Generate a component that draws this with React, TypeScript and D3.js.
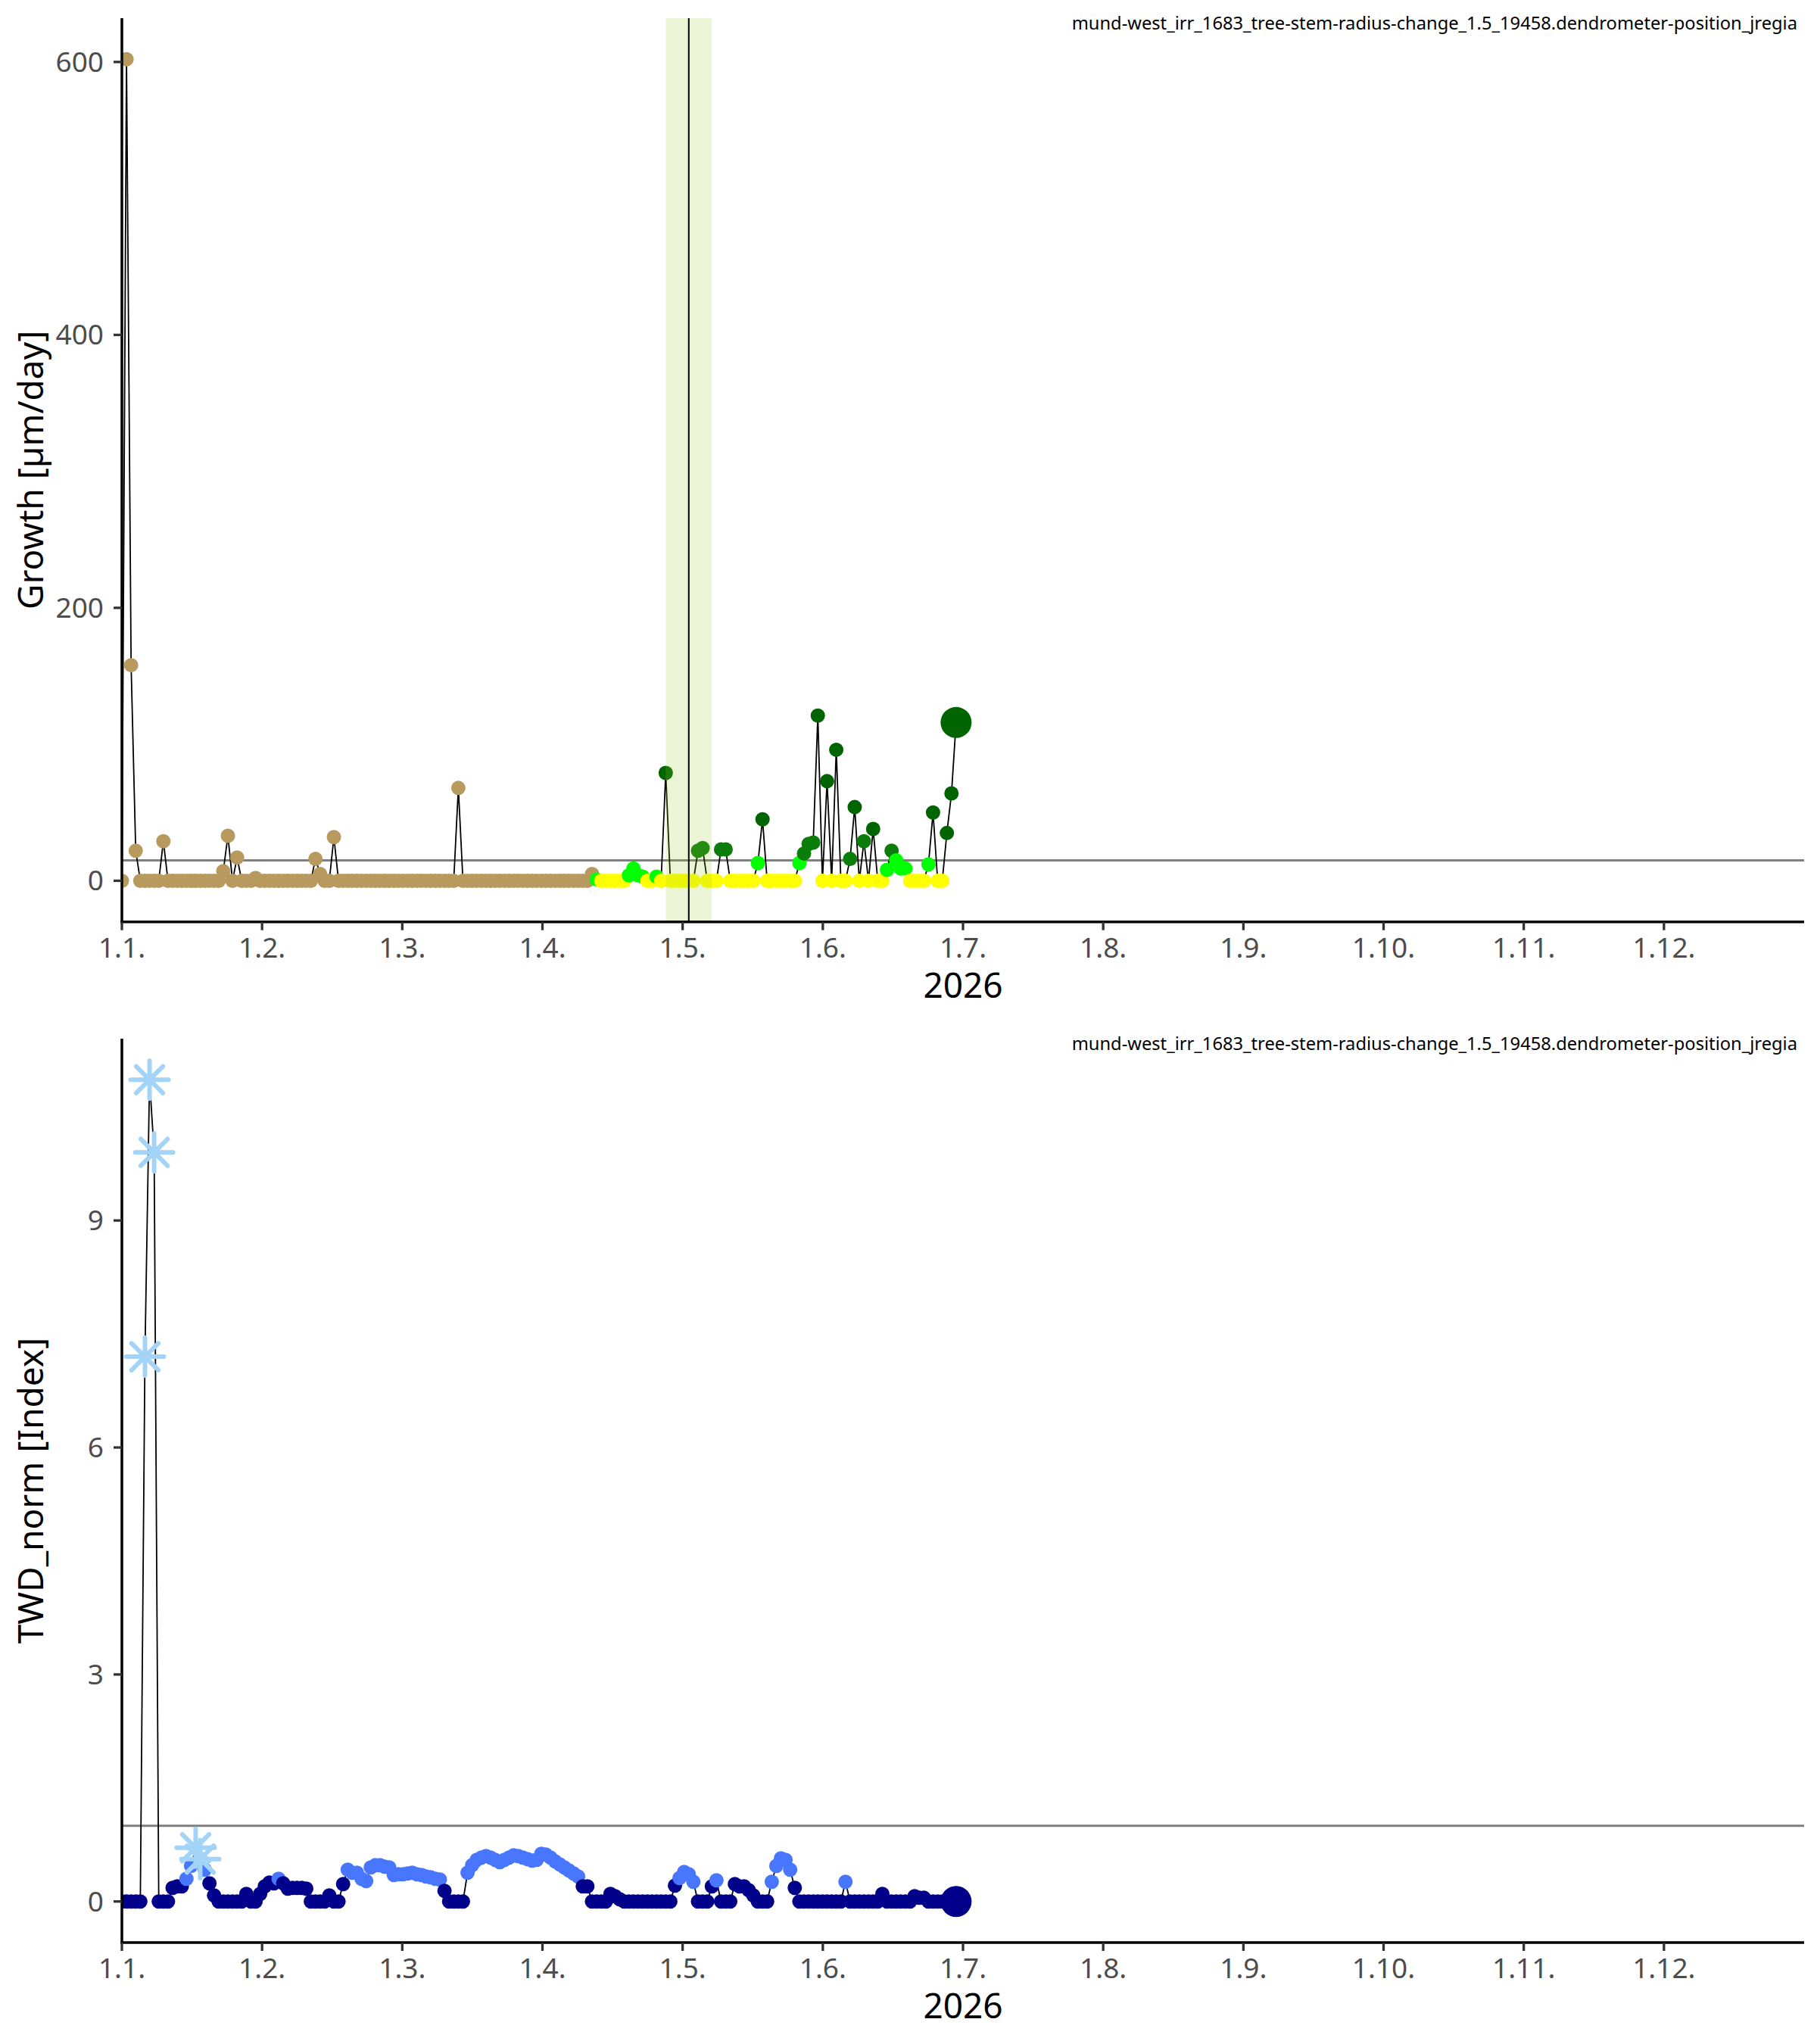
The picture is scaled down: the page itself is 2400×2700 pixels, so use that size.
import React from "react";
import * as d3 from "d3";

// ---------- data ----------
const monthLabels = ["1.1.", "1.2.", "1.3.", "1.4.", "1.5.", "1.6.", "1.7.", "1.8.", "1.9.", "1.10.", "1.11.", "1.12."];
const yearLabel = "2026";
const seriesLabel = "mund-west_irr_1683_tree-stem-radius-change_1.5_19458.dendrometer-position_jregia";

// daily growth [µm/day], day 0 = 1 Jan
const growthValues = [
  0, 602, 158, 22, 0, 0, 0, 0, 0, 29,
  0, 0, 0, 0, 0, 0, 0, 0, 0, 0,
  0, 0, 7, 33, 0, 17, 0, 0, 0, 2,
  0, 0, 0, 0, 0, 0, 0, 0, 0, 0,
  0, 0, 16, 5, 0, 0, 32, 0, 0, 0,
  0, 0, 0, 0, 0, 0, 0, 0, 0, 0,
  0, 0, 0, 0, 0, 0, 0, 0, 0, 0,
  0, 0, 0, 68, 0, 0, 0, 0, 0, 0,
  0, 0, 0, 0, 0, 0, 0, 0, 0, 0,
  0, 0, 0, 0, 0, 0, 0, 0, 0, 0,
  0, 0, 5, 1, 0, 0, 0, 0, 0, 0,
  4, 9, 4, 3, 0, 0, 3, 0, 79, 0,
  0, 0, 0, 0, 0, 22, 24, 0, 0, 0,
  23, 23, 0, 0, 0, 0, 0, 0, 13, 45,
  0, 0, 0, 0, 0, 0, 0, 13, 20, 27,
  28, 121, 0, 73, 0, 96, 0, 0, 16, 54,
  0, 29, 0, 38, 0, 0, 8, 22, 14.9, 9,
  9, 0, 0, 0, 0, 12, 50, 0, 0, 35,
  64, 116,
];

// daily TWD_norm [Index]
const twdValues = [
  0, 0, 0, 0, 0, 7.2, 10.86, 9.9, 0, 0,
  0, 0.18, 0.2, 0.2, 0.3, 0.47, 0.71, 0.56, 0.42, 0.24,
  0.08, 0, 0, 0, 0, 0, 0, 0.1, 0, 0,
  0.1, 0.2, 0.25, 0.24, 0.3, 0.24, 0.17, 0.18, 0.18, 0.18,
  0.17, 0, 0, 0, 0, 0.08, 0, 0, 0.23, 0.42,
  0.38, 0.38, 0.3, 0.27, 0.45, 0.48, 0.48, 0.46, 0.45, 0.35,
  0.36, 0.36, 0.37, 0.38, 0.36, 0.35, 0.33, 0.32, 0.3, 0.29,
  0.14, 0, 0, 0, 0, 0.38, 0.48, 0.55, 0.58, 0.6,
  0.58, 0.55, 0.52, 0.55, 0.58, 0.61, 0.6, 0.58, 0.56, 0.54,
  0.55, 0.63, 0.62, 0.58, 0.53, 0.49, 0.45, 0.41, 0.37, 0.33,
  0.2, 0.2, 0, 0, 0, 0, 0.1, 0.07, 0.03, 0,
  0, 0, 0, 0, 0, 0, 0, 0, 0, 0,
  0.21, 0.31, 0.39, 0.36, 0.26, 0, 0, 0, 0.2, 0.28,
  0, 0, 0, 0.23, 0.2, 0.2, 0.15, 0.08, 0, 0,
  0, 0.26, 0.47, 0.57, 0.55, 0.42, 0.18, 0, 0, 0,
  0, 0, 0, 0, 0, 0, 0, 0.26, 0, 0,
  0, 0, 0, 0, 0, 0.1, 0, 0, 0, 0,
  0, 0, 0.07, 0.05, 0.05, 0, 0, 0, 0, 0,
  0, 0,
];
const twdStarDays = [5, 6, 7, 16, 17];

const dormantLastDay = 102;
const growthThreshold = 15;
const twdThreshold = 1;
const twdBlueLevel = 0.255;
const eventDay = 123;
const eventWindow = [118, 128];
const growthTicks = [0, 200, 400, 600];
const twdTicks = [0, 3, 6, 9];
const yearDays = 365;

// ---------- layout / style ----------
const W = 2400;
const H = 2700;
const PL = 161;
const PR = 2383;
const FONT = "'Noto Sans', 'Open Sans', sans-serif";
const TAN = "#B89A5E";
const YELLOW = "#FFFF00";
const LIME = "#00FF00";
const MIDGREEN = "#0B7D0B";
const DARKGREEN = "#006400";
const NAVY = "#00008B";
const BLUE = "#4876FF";
const STAR = "#A3D4F7";

function growthColor(v: number, i: number): string {
  if (i <= dormantLastDay) return TAN;
  if (v === 0) return YELLOW;
  if (v < growthThreshold) return LIME;
  if (v < 30) return MIDGREEN;
  return DARKGREEN;
}
function twdColor(v: number): string {
  return v < twdBlueLevel ? NAVY : BLUE;
}

type PanelProps = {
  id: string;
  top: number;
  bottom: number;
  values: number[];
  yTicks: number[];
  yTitle: string;
  threshold: number;
  colorOf: (v: number, i: number) => string;
  stars?: number[];
  band?: number[];
  vline?: number;
};

function Panel(p: PanelProps) {
  const x = d3.scaleLinear().domain([0, yearDays]).range([PL, PR]);
  const [mn, mx] = d3.extent(p.values) as [number, number];
  const pad = (mx - mn) * 0.05;
  const y = d3.scaleLinear().domain([mn - pad, mx + pad]).range([p.bottom, p.top]);
  const line = d3
    .line<number>()
    .x((_, i) => x(i))
    .y((v) => y(v));
  const last = p.values.length - 1;
  const starSet = new Set(p.stars || []);
  const xTicks = monthLabels.map((_, k) => (k * yearDays) / 12);
  const r = 25;
  const dg = r * 0.7071;
  const starPath = `M${-r},0L${r},0M0,${-r}L0,${r}M${-dg},${-dg}L${dg},${dg}M${-dg},${dg}L${dg},${-dg}`;
  const clipId = `clip-${p.id}`;
  return (
    <g>
      <defs>
        <clipPath id={clipId}>
          <rect x={PL} y={p.top} width={PR - PL} height={p.bottom - p.top} />
        </clipPath>
      </defs>
      <g clipPath={`url(#${clipId})`}>
        <line x1={PL} x2={PR} y1={y(p.threshold)} y2={y(p.threshold)} stroke="#7F7F7F" strokeWidth={3} />
        <path d={line(p.values) || ""} fill="none" stroke="#000" strokeWidth={1.8} />
        {p.values.map((v, i) =>
          starSet.has(i) ? null : (
            <circle key={i} cx={x(i)} cy={y(v)} r={i === last ? 20.5 : 9.5} fill={p.colorOf(v, i)} />
          )
        )}
        {(p.stars || []).map((d) => (
          <path
            key={"s" + d}
            d={starPath}
            transform={`translate(${x(d)},${y(p.values[d])})`}
            stroke={STAR}
            strokeWidth={6}
            strokeLinecap="round"
            fill="none"
          />
        ))}
        {p.band && (
          <rect
            x={x(p.band[0])}
            y={p.top}
            width={x(p.band[1]) - x(p.band[0])}
            height={p.bottom - p.top}
            fill="#9ACD32"
            fillOpacity={0.2}
          />
        )}
        {p.vline !== undefined && (
          <line x1={x(p.vline)} x2={x(p.vline)} y1={p.top} y2={p.bottom} stroke="#000" strokeWidth={2} />
        )}
      </g>
      <text
        x={2374}
        y={p.top + 15}
        textAnchor="end"
        fontFamily={FONT}
        fontSize={23.7}
        fill="#000"
      >
        {seriesLabel}
      </text>
      {/* axes */}
      <line x1={PL} x2={PL} y1={p.top} y2={p.bottom + 1.75} stroke="#000" strokeWidth={3.5} />
      <line x1={PL - 1.75} x2={PR} y1={p.bottom} y2={p.bottom} stroke="#000" strokeWidth={3.5} />
      {p.yTicks.map((t) => (
        <g key={"y" + t}>
          <line x1={PL - 11} x2={PL} y1={y(t)} y2={y(t)} stroke="#333" strokeWidth={3.3} />
          <text
            x={137}
            y={y(t) + 13}
            textAnchor="end"
            fontFamily={FONT}
            fontSize={37}
            fill="#4D4D4D"
          >
            {t}
          </text>
        </g>
      ))}
      {xTicks.map((t, k) => (
        <g key={"x" + k}>
          <line x1={x(t)} x2={x(t)} y1={p.bottom} y2={p.bottom + 11} stroke="#333" strokeWidth={3.3} />
          <text x={x(t)} y={p.bottom + 47} textAnchor="middle" fontFamily={FONT} fontSize={37} fill="#4D4D4D">
            {monthLabels[k]}
          </text>
        </g>
      ))}
      <text
        x={(PL + PR) / 2}
        y={p.bottom + 100}
        textAnchor="middle"
        fontFamily={FONT}
        fontSize={46}
        fill="#000"
      >
        {yearLabel}
      </text>
      <text
        transform={`translate(57,${(p.top + p.bottom) / 2}) rotate(-90)`}
        textAnchor="middle"
        fontFamily={FONT}
        fontSize={46}
        fill="#000"
      >
        {p.yTitle}
      </text>
    </g>
  );
}

export default function App() {
  return (
    <svg
      width={W}
      height={H}
      viewBox={`0 0 ${W} ${H}`}
      style={{ position: "absolute", left: 0, top: 0, background: "#fff" }}
    >
      <rect x={0} y={0} width={W} height={H} fill="#fff" />
      <Panel
        id="growth"
        top={24}
        bottom={1217.7}
        values={growthValues}
        yTicks={growthTicks}
        yTitle="Growth [µm/day]"
        threshold={growthThreshold}
        colorOf={growthColor}
        band={eventWindow}
        vline={eventDay}
      />
      <Panel
        id="twd"
        top={1372}
        bottom={2566}
        values={twdValues}
        yTicks={twdTicks}
        yTitle="TWD_norm [Index]"
        threshold={twdThreshold}
        colorOf={(v) => twdColor(v)}
        stars={twdStarDays}
      />
    </svg>
  );
}
